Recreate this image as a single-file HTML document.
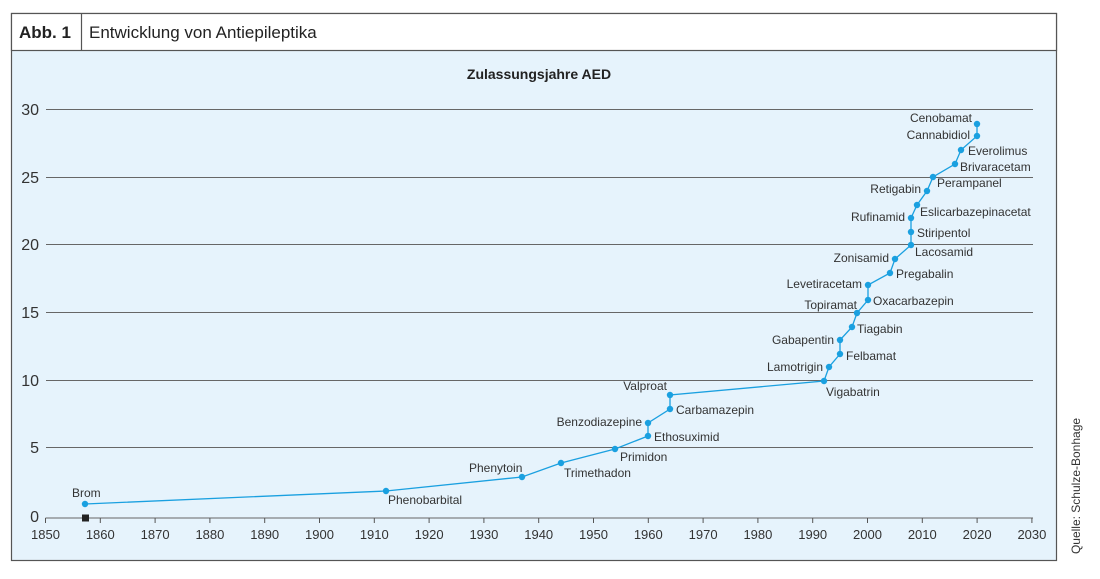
<!DOCTYPE html>
<html><head><meta charset="utf-8"><style>
body{margin:0;background:#fff;}
svg{display:block;font-family:"Liberation Sans",sans-serif;}
</style></head><body>
<svg width="1100" height="579" xmlns="http://www.w3.org/2000/svg">
<rect x="11.5" y="13.5" width="1045" height="547" fill="#e6f3fc" stroke="#555" stroke-width="1.2"/>
<rect x="11.5" y="13.5" width="1045" height="37" fill="#fff" stroke="#555" stroke-width="1.2"/>
<line x1="81.5" y1="13.5" x2="81.5" y2="50.5" stroke="#555" stroke-width="1.2"/>
<text x="19" y="38" font-size="17" font-weight="bold" fill="#222">Abb. 1</text>
<text x="89" y="38" font-size="17" fill="#222">Entwicklung von Antiepileptika</text>
<text x="539" y="79" font-size="14" font-weight="bold" fill="#222" text-anchor="middle">Zulassungsjahre AED</text>
<g stroke="#666" stroke-width="1">
<line x1="46" y1="109.5" x2="1033" y2="109.5"/>
<line x1="46" y1="177.5" x2="1033" y2="177.5"/>
<line x1="46" y1="244.5" x2="1033" y2="244.5"/>
<line x1="46" y1="312.5" x2="1033" y2="312.5"/>
<line x1="46" y1="380.5" x2="1033" y2="380.5"/>
<line x1="46" y1="447.5" x2="1033" y2="447.5"/>
<line x1="45.5" y1="518" x2="1033" y2="518"/>
</g>
<g font-size="16" fill="#333" text-anchor="end">
<text x="39" y="115">30</text><text x="39" y="183">25</text><text x="39" y="250">20</text>
<text x="39" y="318">15</text><text x="39" y="386">10</text><text x="39" y="453">5</text><text x="39" y="522">0</text>
</g>
<g stroke="#555" stroke-width="1">
<line x1="45.5" y1="518" x2="45.5" y2="523"/><line x1="100.3" y1="518" x2="100.3" y2="523"/><line x1="155.1" y1="518" x2="155.1" y2="523"/><line x1="209.9" y1="518" x2="209.9" y2="523"/><line x1="264.7" y1="518" x2="264.7" y2="523"/><line x1="319.5" y1="518" x2="319.5" y2="523"/><line x1="374.3" y1="518" x2="374.3" y2="523"/><line x1="429.1" y1="518" x2="429.1" y2="523"/><line x1="483.9" y1="518" x2="483.9" y2="523"/><line x1="538.7" y1="518" x2="538.7" y2="523"/><line x1="593.5" y1="518" x2="593.5" y2="523"/><line x1="648.3" y1="518" x2="648.3" y2="523"/><line x1="703.1" y1="518" x2="703.1" y2="523"/><line x1="757.9" y1="518" x2="757.9" y2="523"/><line x1="812.7" y1="518" x2="812.7" y2="523"/><line x1="867.5" y1="518" x2="867.5" y2="523"/><line x1="922.3" y1="518" x2="922.3" y2="523"/><line x1="977.1" y1="518" x2="977.1" y2="523"/><line x1="1031.9" y1="518" x2="1031.9" y2="523"/>
</g>
<g font-size="13" fill="#333" text-anchor="middle">
<text x="45.5" y="539">1850</text><text x="100.3" y="539">1860</text><text x="155.1" y="539">1870</text><text x="209.9" y="539">1880</text><text x="264.7" y="539">1890</text><text x="319.5" y="539">1900</text><text x="374.3" y="539">1910</text><text x="429.1" y="539">1920</text><text x="483.9" y="539">1930</text><text x="538.7" y="539">1940</text><text x="593.5" y="539">1950</text><text x="648.3" y="539">1960</text><text x="703.1" y="539">1970</text><text x="757.9" y="539">1980</text><text x="812.7" y="539">1990</text><text x="867.5" y="539">2000</text><text x="922.3" y="539">2010</text><text x="977.1" y="539">2020</text><text x="1031.9" y="539">2030</text>
</g>
<rect x="82" y="514.5" width="7" height="7" fill="#222"/>
<polyline fill="none" stroke="#1aa0e0" stroke-width="1.3" points="85,504 386,491 522,477 561,463 615,449 648,436 648,423 670,409 670,395 824,381 829,367 840,354 840,340 852,327 857,313 868,300 868,285 890,273 895,259 911,245 911,232 911,218 917,205 927,191 933,177 955,164 961,150 977,136 977,124"/>
<g fill="#1aa0e0">
<circle cx="85" cy="504" r="3.2"/><circle cx="386" cy="491" r="3.2"/><circle cx="522" cy="477" r="3.2"/><circle cx="561" cy="463" r="3.2"/><circle cx="615" cy="449" r="3.2"/><circle cx="648" cy="436" r="3.2"/><circle cx="648" cy="423" r="3.2"/><circle cx="670" cy="409" r="3.2"/><circle cx="670" cy="395" r="3.2"/><circle cx="824" cy="381" r="3.2"/><circle cx="829" cy="367" r="3.2"/><circle cx="840" cy="354" r="3.2"/><circle cx="840" cy="340" r="3.2"/><circle cx="852" cy="327" r="3.2"/><circle cx="857" cy="313" r="3.2"/><circle cx="868" cy="300" r="3.2"/><circle cx="868" cy="285" r="3.2"/><circle cx="890" cy="273" r="3.2"/><circle cx="895" cy="259" r="3.2"/><circle cx="911" cy="245" r="3.2"/><circle cx="911" cy="232" r="3.2"/><circle cx="911" cy="218" r="3.2"/><circle cx="917" cy="205" r="3.2"/><circle cx="927" cy="191" r="3.2"/><circle cx="933" cy="177" r="3.2"/><circle cx="955" cy="164" r="3.2"/><circle cx="961" cy="150" r="3.2"/><circle cx="977" cy="136" r="3.2"/><circle cx="977" cy="124" r="3.2"/>
</g>
<g font-size="12" fill="#333">
<text x="72" y="497">Brom</text>
<text x="388" y="504">Phenobarbital</text>
<text x="469" y="472">Phenytoin</text>
<text x="564" y="477">Trimethadon</text>
<text x="620" y="461">Primidon</text>
<text x="654" y="441">Ethosuximid</text>
<text x="676" y="414">Carbamazepin</text>
<text x="826" y="396">Vigabatrin</text>
<text x="846" y="360">Felbamat</text>
<text x="857" y="333">Tiagabin</text>
<text x="873" y="305">Oxacarbazepin</text>
<text x="896" y="278">Pregabalin</text>
<text x="915" y="256">Lacosamid</text>
<text x="917" y="237">Stiripentol</text>
<text x="920" y="216">Eslicarbazepinacetat</text>
<text x="937" y="187">Perampanel</text>
<text x="960" y="171">Brivaracetam</text>
<text x="968" y="155">Everolimus</text>
</g>
<g font-size="12" fill="#333" text-anchor="end">
<text x="667" y="390">Valproat</text>
<text x="642" y="426">Benzodiazepine</text>
<text x="823" y="371">Lamotrigin</text>
<text x="834" y="344">Gabapentin</text>
<text x="857" y="309">Topiramat</text>
<text x="862" y="288">Levetiracetam</text>
<text x="889" y="262">Zonisamid</text>
<text x="905" y="221">Rufinamid</text>
<text x="921" y="193">Retigabin</text>
<text x="970" y="139">Cannabidiol</text>
<text x="972" y="122">Cenobamat</text>
</g>
<text transform="translate(1080,486) rotate(-90)" font-size="12" fill="#333" text-anchor="middle">Quelle: Schulze-Bonhage</text>
</svg>
</body></html>
